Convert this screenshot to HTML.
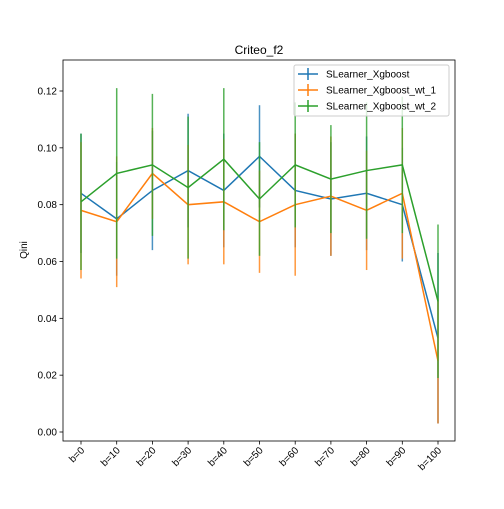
<!DOCTYPE html>
<html><head><meta charset="utf-8"><style>body{margin:0;background:#fff}svg{font-family:"Liberation Sans","DejaVu Sans",sans-serif}</style></head>
<body>
<svg id="chart" width="504" height="504"></svg>
<script>
const categories=["b=0","b=10","b=20","b=30","b=40","b=50","b=60","b=70","b=80","b=90","b=100"];
const seriesNames=["SLearner_Xgboost","SLearner_Xgboost_wt_1","SLearner_Xgboost_wt_2"];
const blueVals=[0.084,0.075,0.085,0.092,0.085,0.097,0.085,0.082,0.084,0.080,0.033];
const blueErr=[0.021,0.020,0.021,0.020,0.020,0.018,0.020,0.020,0.020,0.020,0.030];
const orangeVals=[0.078,0.074,0.091,0.080,0.081,0.074,0.080,0.083,0.078,0.084,0.025];
const orangeErr=[0.024,0.023,0.016,0.021,0.022,0.018,0.025,0.021,0.021,0.023,0.022];
const greenVals=[0.081,0.091,0.094,0.086,0.096,0.082,0.094,0.089,0.092,0.094,0.046];
const greenErr=[0.024,0.030,0.025,0.025,0.025,0.020,0.022,0.019,0.024,0.024,0.027];
const yTicks=[0.00,0.02,0.04,0.06,0.08,0.10,0.12];
const NS="http://www.w3.org/2000/svg";
const svg=document.getElementById('chart');
const L=63,R=455,T=60,B=441;
const x=i=>81+i*(438-81)/(categories.length-1);
const y=v=>432-v*(432-91)/0.12;
function mk(tag,at,parent){const e=document.createElementNS(NS,tag);for(const k in at)e.setAttribute(k,at[k]);(parent||svg).appendChild(e);return e;}
const title=mk('text',{x:259,y:54,'text-anchor':'middle','font-size':12});title.textContent="Criteo_f2";


const yl=mk('text',{x:0,y:0,'text-anchor':'middle','font-size':10,transform:'translate(27,250) rotate(-90)'});yl.textContent="Qini";


yTicks.forEach(t=>{const g=mk('g',{});


mk('line',{x1:L-3.5,x2:L,y1:y(t),y2:y(t),stroke:'#000','stroke-width':0.8},g);
const tx=mk('text',{x:L-6,y:y(t)+3.5,'text-anchor':'end','font-size':10},g);tx.textContent=t.toFixed(2);});
categories.forEach((c,i)=>{const g=mk('g',{});


mk('line',{x1:x(i),x2:x(i),y1:B,y2:B+3.5,stroke:'#000','stroke-width':0.8},g);
const tx=mk('text',{x:0,y:0,'text-anchor':'end','font-size':10,transform:`translate(${x(i)+4},${B+10}) rotate(-45)`},g);tx.textContent=c;});
const series=[[blueVals,blueErr,'#1f77b4'],[orangeVals,orangeErr,'#ff7f0e'],[greenVals,greenErr,'#2ca02c']];
series.forEach(([v,e,col],si)=>{const g=mk('g',{});


mk('polyline',{points:v.map((d,i)=>x(i)+','+y(d)).join(' '),fill:'none',stroke:col,'stroke-width':1.5},g);
v.forEach((d,i)=>{const l=mk('line',{x1:x(i),x2:x(i),y1:y(d-e[i]),y2:y(d+e[i]),stroke:col,'stroke-width':1.5,opacity:0.8},g);

});});
mk('rect',{x:L,y:T,width:R-L,height:B-T,fill:'none',stroke:'#000','stroke-width':0.8});
const lg=mk('g',{});


mk('rect',{x:294,y:65,width:155,height:51,rx:2,fill:'#fff','fill-opacity':0.8,stroke:'#ccc'},lg);
seriesNames.forEach((n,i)=>{const yy=74+i*16,col=series[i][2];
const e=mk('g',{},lg);


mk('line',{x1:298,x2:318,y1:yy,y2:yy,stroke:col,'stroke-width':1.5},e);
mk('line',{x1:308,x2:308,y1:yy-6,y2:yy+6,stroke:col,'stroke-width':1.5},e);
const t=mk('text',{x:326,y:yy+3.5,'font-size':10},e);t.textContent=n;});
</script>
</body></html>
